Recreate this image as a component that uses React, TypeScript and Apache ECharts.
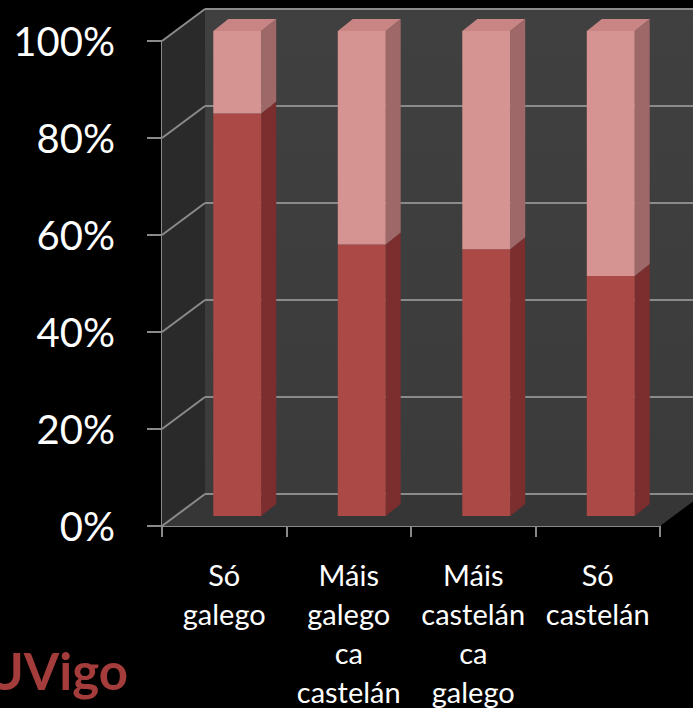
import React, { useEffect, useRef } from "react";
import * as echarts from "echarts";

const categories = ["Só galego", "Máis galego ca castelán", "Máis castelán ca galego", "Só castelán"];
const lowerValues = [83, 56, 55, 49.5];
const upperValues = [17, 44, 45, 50.5];
const yTicks = [0, 20, 40, 60, 80, 100];

// 3D geometry (pixels)
const WALL_DX = 43;
const WALL_DY = -32;
const BAR_OX = 13;
const BAR_OY = -10;
const BAR_DX = 15;
const BAR_DY = -12;

const FONT = "Lato, 'Open Sans', sans-serif";

export default function App() {
  const ref = useRef<HTMLDivElement>(null);
  useEffect(() => {
    if (!ref.current) return;
    const chart = echarts.init(ref.current, null, { renderer: "svg" });

    const makeBar = (colors: { front: string; side: string; top: string }, withTop: boolean) =>
      (params: any, api: any) => {
        const ci = api.value(0);
        const lo = api.value(1);
        const hi = api.value(2);
        const p0 = api.coord([ci, lo]);
        const p1 = api.coord([ci, hi]);
        const bw = api.size([1, 0])[0] * 0.385;
        const cx = p0[0] + BAR_OX;
        const yb = p0[1] + BAR_OY;
        const yt = p1[1] + BAR_OY;
        const xl = cx - bw / 2;
        const xr = cx + bw / 2;
        const children: any[] = [
          {
            type: "polygon",
            shape: { points: [[xr, yb], [xr + BAR_DX, yb + BAR_DY], [xr + BAR_DX, yt + BAR_DY], [xr, yt]] },
            style: { fill: colors.side },
          },
          {
            type: "rect",
            shape: { x: xl, y: yt, width: bw, height: yb - yt },
            style: { fill: colors.front },
          },
        ];
        if (withTop) {
          children.push({
            type: "polygon",
            shape: { points: [[xl, yt], [xr, yt], [xr + BAR_DX, yt + BAR_DY], [xl + BAR_DX, yt + BAR_DY]] },
            style: { fill: colors.top },
          });
        }
        return { type: "group", children };
      };

    const wallRender = (params: any, api: any) => {
      const cs = params.coordSys;
      const v = api.value(0);
      const y = api.coord([0, v])[1];
      const gx = cs.x;
      const gw = cs.width;
      const gy = cs.y;
      const gh = cs.height;
      const children: any[] = [];
      if (params.dataIndex === 0) {
        children.push({
          type: "rect",
          shape: { x: gx + WALL_DX, y: gy + WALL_DY, width: gw, height: gh },
          style: {
            fill: new echarts.graphic.LinearGradient(0, 0, 0, 1, [
              { offset: 0, color: "#404040" },
              { offset: 1, color: "#3b3b3b" },
            ]),
          },
        });
        children.push({
          type: "polygon",
          shape: {
            points: [
              [gx, gy],
              [gx + WALL_DX, gy + WALL_DY],
              [gx + WALL_DX, gy + gh + WALL_DY],
              [gx, gy + gh],
            ],
          },
          style: { fill: "#2a2a2a" },
        });
        children.push({
          type: "polygon",
          shape: {
            points: [
              [gx, gy + gh],
              [gx + gw, gy + gh],
              [gx + gw + WALL_DX, gy + gh + WALL_DY],
              [gx + WALL_DX, gy + gh + WALL_DY],
            ],
          },
          style: { fill: "#363636" },
        });
      }
      children.push({
        type: "line",
        shape: { x1: gx + WALL_DX, y1: y + WALL_DY, x2: gx + gw + WALL_DX, y2: y + WALL_DY },
        style: { stroke: "#8a8a8a", lineWidth: 2 },
      });
      children.push({
        type: "line",
        shape: { x1: gx, y1: y, x2: gx + WALL_DX, y2: y + WALL_DY },
        style: { stroke: "#8a8a8a", lineWidth: 2 },
      });
      return { type: "group", children };
    };

    const lowerData = categories.map((_, i) => [i, 0, lowerValues[i]]);
    const upperData = categories.map((_, i) => [i, lowerValues[i], lowerValues[i] + upperValues[i]]);

    chart.setOption({
      animation: false,
      backgroundColor: "#000000",
      grid: { left: 162, right: 33, top: 41, bottom: 182, containLabel: false, outerBoundsMode: "none" },
      xAxis: {
        type: "category",
        data: categories,
        axisLine: { show: true, lineStyle: { color: "#8a8a8a", width: 2 } },
        axisTick: { show: true, length: 11, lineStyle: { color: "#8a8a8a", width: 2 } },
        axisLabel: {
          color: "#ffffff",
          fontSize: 29,
          lineHeight: 39,
          fontFamily: FONT,
          margin: 29,
          interval: 0,
          formatter: (v: string) => v.split(" ").join("\n"),
        },
        splitLine: { show: false },
      },
      yAxis: {
        type: "value",
        min: 0,
        max: 100,
        interval: 20,
        axisLine: { show: true, lineStyle: { color: "#8a8a8a", width: 2 } },
        axisTick: { show: true, length: 15, lineStyle: { color: "#8a8a8a", width: 2 } },
        axisLabel: {
          color: "#ffffff",
          fontSize: 40,
          fontFamily: FONT,
          margin: 47,
          formatter: "{value}%",
        },
        splitLine: { show: false },
      },
      graphic: [
        {
          type: "text",
          z: 10,
          style: {
            x: 128,
            y: 670,
            text: "UVigo",
            align: "right",
            verticalAlign: "middle",
            fill: "#a33c3a",
            font: `bold 51px ${FONT}`,
          },
        },
      ],
      series: [
        {
          type: "custom",
          name: "walls",
          z: 1,
          data: yTicks.map((t) => [t]),
          encode: { y: 0 },
          renderItem: wallRender,
          silent: true,
        },
        {
          type: "custom",
          name: "lower",
          z: 3,
          data: lowerData,
          encode: { x: 0, y: [1, 2] },
          renderItem: makeBar({ front: "#ab4946", side: "#7b2e2d", top: "#9a3f3d" }, false),
        },
        {
          type: "custom",
          name: "upper",
          z: 4,
          data: upperData,
          encode: { x: 0, y: [1, 2] },
          renderItem: makeBar({ front: "#d59391", side: "#9e6868", top: "#c98584" }, true),
        },
      ],
    });
    return () => chart.dispose();
  }, []);

  return (
    <div
      ref={ref}
      style={{ position: "absolute", left: 0, top: 0, width: 693, height: 708, background: "#000" }}
    />
  );
}
